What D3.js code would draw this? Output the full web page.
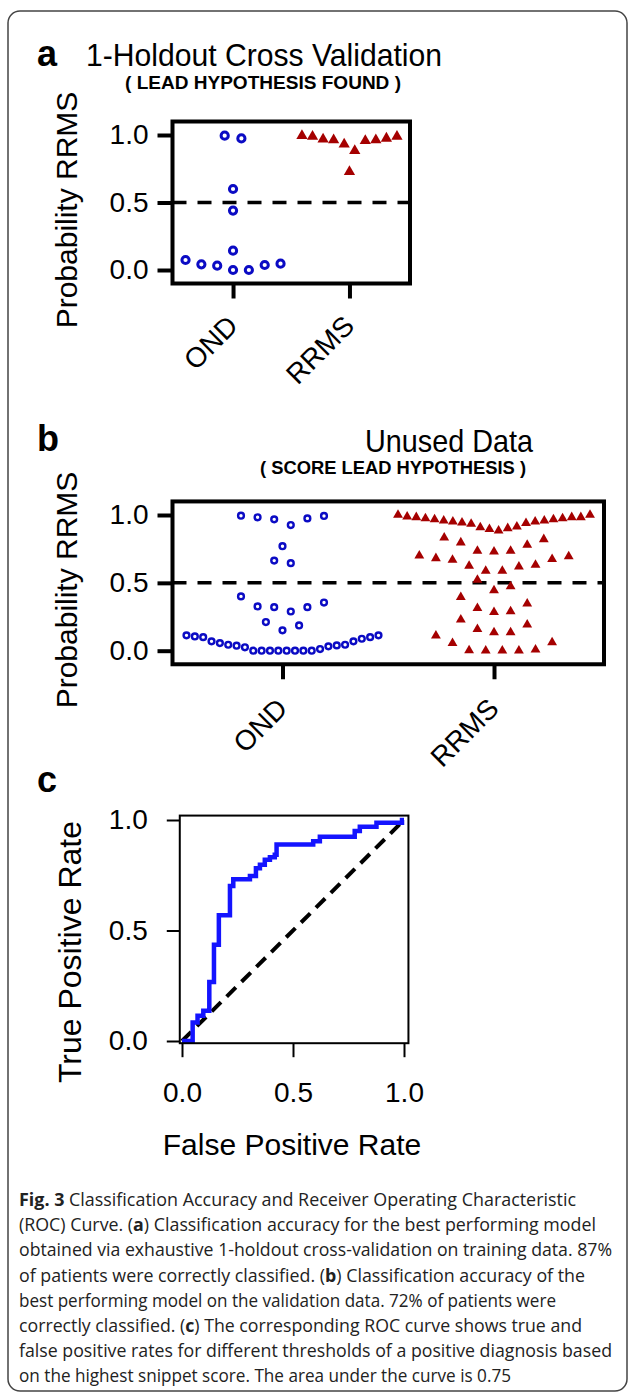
<!DOCTYPE html>
<html>
<head>
<meta charset="utf-8">
<script src="https://cdn.jsdelivr.net/npm/d3@7"></script>
<style>
  body { margin: 0; background: #fff; }
  svg { display: block; font-family: "Liberation Sans", Arial, sans-serif; }
</style>
</head>
<body>
<div id="figure"></div>
<script>
// categories + ticks
const categories = ["OND", "RRMS"]
const probTicks = [0.0, 0.5, 1.0]
const rateTicks = [0.0, 0.5, 1.0]
const cutoff = 0.5

// a) 1-holdout cross validation, probability RRMS per patient
const holdoutOND = [0.975, 0.995, 0.60, 0.44, 0.143, 0.074, 0.042, 0.032, 0.0, 0.0, 0.037, 0.047]
const holdoutRRMS = [0.995, 0.988, 0.968, 0.963, 0.931, 0.884, 0.958, 0.963, 0.975, 0.988, 0.728]

// b) unused data
const unusedOND = [
    0.993, 0.983, 0.968, 0.926, 0.975, 0.995,
    0.77, 0.664, 0.645,
    0.400, 0.355, 0.321, 0.289, 0.321, 0.326,
    0.186, 0.150, 0.211,
    0.113, 0.100, 0.088, 0.069, 0.044, 0.039, 0.025, 0.012, 0.0, 0.0, 0.0, 0.0,
    0.0, 0.0, 0.0, 0.0, 0.032, 0.037, 0.044, 0.056, 0.069, 0.100, 0.105, 0.113
]
const unusedRRMS = [
    0.983, 0.983, 0.975, 0.968, 0.958, 0.951, 0.939, 0.914, 0.895, 0.885, 0.902,
    0.909, 0.934, 0.944, 0.951, 0.958, 0.968, 0.975, 0.983, 0.988, 1.0, 1.0,
    0.821, 0.779, 0.797, 0.833, 0.735, 0.730, 0.735,
    0.694, 0.674, 0.632, 0.620, 0.588, 0.588, 0.625, 0.669, 0.681, 0.70,
    0.522, 0.473, 0.444,
    0.395, 0.314, 0.284, 0.289, 0.346,
    0.191, 0.135, 0.135, 0.159, 0.228,
    0.061, 0.002, 0.0, 0.0, 0.0, 0.007, 0.056, 0.110
]

// c) ROC curve, corner points after each rise
const rocFPR = [0, 0.048, 0.070, 0.096, 0.123, 0.144, 0.166, 0.216, 0.231, 0.306, 0.333, 0.351, 0.373, 0.396, 0.418, 0.426, 0.591, 0.621, 0.778, 0.801, 0.876, 0.991, 1.0]
const rocTPR = [0, 0.084, 0.114, 0.137, 0.267, 0.436, 0.569, 0.701, 0.732, 0.747, 0.782, 0.797, 0.820, 0.832, 0.843, 0.889, 0.904, 0.924, 0.950, 0.970, 0.988, 1.0, 1.0]

const captionLines = [
    [["Fig. 3", true], [" Classification Accuracy and Receiver Operating Characteristic", false]],
    [["(ROC) Curve. (", false], ["a", true], [") Classification accuracy for the best performing model", false]],
    [["obtained via exhaustive 1-holdout cross-validation on training data. 87%", false]],
    [["of patients were correctly classified. (", false], ["b", true], [") Classification accuracy of the", false]],
    [["best performing model on the validation data. 72% of patients were", false]],
    [["correctly classified. (", false], ["c", true], [") The corresponding ROC curve shows true and", false]],
    [["false positive rates for different thresholds of a positive diagnosis based", false]],
    [["on the highest snippet score. The area under the curve is 0.75", false]]
]
const captionWidths = [557, 577, 593, 566, 537, 563, 593, 492]

const blue = "#0b0bc4"
const red = "#a50000"

const width = 629
const height = 1393

const svg = d3.select("#figure")
    .append("svg")
    .attr("width", width)
    .attr("height", height)

svg.append("rect")
    .attr("x", 8)
    .attr("y", 11)
    .attr("width", 619)
    .attr("height", 1380)
    .attr("rx", 12)
    .attr("fill", "none")
    .attr("stroke", "#444")
    .attr("stroke-width", 1.5)

// prism-like scatter: rows of similar values, spread sideways from the centre
function swarm(values, rowHeight, step, maxWidth) {
    const sorted = values.slice().sort((a, b) => a - b)
    const rows = []
    let row = null
    sorted.forEach(v => {
        if (!row || v - row[0] > rowHeight) {
            row = [v]
            rows.push(row)
        } else {
            row.push(v)
        }
    })
    const out = []
    rows.forEach(r => {
        const n = r.length
        const gap = n > 1 ? Math.min(step, maxWidth / (n - 1)) : 0
        const mid = (n - 1) / 2
        const slots = d3.range(n).sort((a, b) => Math.abs(a - mid) - Math.abs(b - mid) || b - a)
        r.forEach((v, i) => out.push({ value: v, dx: (slots[i] - mid) * gap }))
    })
    return out
}

function scatterPanel(cfg) {
    const x = d3.scalePoint()
        .domain(categories)
        .range([cfg.left, cfg.right])
        .padding(0.52)

    const y = d3.scaleLinear()
        .domain([0, 1])
        .range([cfg.zeroY, cfg.oneY])

    const g = svg.append("g")

    g.append("line")
        .attr("x1", cfg.left)
        .attr("x2", cfg.right)
        .attr("y1", y(cutoff))
        .attr("y2", y(cutoff))
        .attr("stroke", "#000")
        .attr("stroke-width", 3.5)
        .attr("stroke-dasharray", "14,11")

    const ond = swarm(cfg.ond, 0.12, cfg.step, cfg.maxWidth)
    const rrms = swarm(cfg.rrms, 0.12, cfg.step, cfg.maxWidth)

    g.append("g")
        .selectAll("circle")
        .data(ond)
        .enter()
        .append("circle")
        .attr("cx", function (d) { return x("OND") + d.dx })
        .attr("cy", function (d) { return y(d.value) })
        .attr("r", cfg.radius)
        .attr("fill", "none")
        .attr("stroke", blue)
        .attr("stroke-width", cfg.ring)

    g.append("g")
        .selectAll("path")
        .data(rrms)
        .enter()
        .append("path")
        .attr("d", d3.symbol().type(d3.symbolTriangle).size(cfg.triSize))
        .attr("transform", function (d) {
            return "translate(" + (x("RRMS") + d.dx) + "," + y(d.value) + ")"
        })
        .attr("fill", red)

    // frame
    g.append("rect")
        .attr("x", cfg.left)
        .attr("y", y(1.1))
        .attr("width", cfg.right - cfg.left)
        .attr("height", y(-0.1) - y(1.1))
        .attr("fill", "none")
        .attr("stroke", "#000")
        .attr("stroke-width", 4)

    g.append("g")
        .attr("transform", "translate(" + cfg.left + ",0)")
        .call(d3.axisLeft(y).tickValues(probTicks).tickFormat(d3.format(".1f")).tickSize(15).tickPadding(9))
        .attr("font-size", 28)
        .attr("font-family", null)
        .call(ax => ax.select(".domain").remove())
        .call(ax => ax.selectAll("line").attr("stroke-width", 4))

    g.append("g")
        .attr("transform", "translate(0," + y(-0.1) + ")")
        .call(d3.axisBottom(x).tickSize(15))
        .attr("font-size", 28)
        .attr("font-family", null)
        .call(ax => ax.select(".domain").remove())
        .call(ax => ax.selectAll("line").attr("stroke-width", 4))
        .call(ax => ax.selectAll("text")
            .attr("x", null)
            .attr("y", null)
            .attr("dy", null)
            .attr("text-anchor", "end")
            .attr("transform", "translate(6," + cfg.labelDrop + ") rotate(-45)"))

    g.append("text")
        .attr("transform", "translate(77," + cfg.titleY + ") rotate(-90)")
        .attr("text-anchor", "middle")
        .attr("font-size", 30)
        .text("Probability RRMS")
}

// panel a
svg.append("text").attr("x", 37).attr("y", 66).attr("font-size", 36).attr("font-weight", "bold").text("a")
svg.append("text").attr("x", 86).attr("y", 66).attr("font-size", 32)
    .attr("textLength", 356).attr("lengthAdjust", "spacingAndGlyphs")
    .text("1-Holdout Cross Validation")
svg.append("text").attr("x", 125).attr("y", 89).attr("font-size", 19).attr("font-weight", "bold")
    .attr("textLength", 276).attr("lengthAdjust", "spacingAndGlyphs")
    .text("( LEAD HYPOTHESIS FOUND )")

scatterPanel({
    ond: holdoutOND, rrms: holdoutRRMS,
    left: 172.5, right: 410, zeroY: 270, oneY: 135,
    step: 16.7, maxWidth: 95, radius: 3.6, ring: 3, triSize: 55,
    labelDrop: 44, titleY: 210
})

// panel b
svg.append("text").attr("x", 37).attr("y", 451).attr("font-size", 36).attr("font-weight", "bold").text("b")
svg.append("text").attr("x", 449).attr("y", 452).attr("font-size", 32).attr("text-anchor", "middle")
    .attr("textLength", 168).attr("lengthAdjust", "spacingAndGlyphs")
    .text("Unused Data")
svg.append("text").attr("x", 393).attr("y", 474).attr("font-size", 19).attr("font-weight", "bold")
    .attr("text-anchor", "middle")
    .attr("textLength", 266).attr("lengthAdjust", "spacingAndGlyphs")
    .text("( SCORE LEAD HYPOTHESIS )")

scatterPanel({
    ond: unusedOND, rrms: unusedRRMS,
    left: 172.5, right: 604, zeroY: 650.7, oneY: 515,
    step: 16.6, maxWidth: 192, radius: 2.9, ring: 2.4, triSize: 42,
    labelDrop: 46, titleY: 590
})

// panel c, ROC
svg.append("text").attr("x", 37).attr("y", 792).attr("font-size", 36).attr("font-weight", "bold").text("c")

const rocX = d3.scaleLinear().domain([0, 1]).range([182, 404])
const rocY = d3.scaleLinear().domain([0, 1]).range([1041, 820])
const roc = rocFPR.map((f, i) => [f, rocTPR[i]])

const gc = svg.append("g")

gc.append("line")
    .attr("x1", rocX(0))
    .attr("y1", rocY(0))
    .attr("x2", rocX(1))
    .attr("y2", rocY(1))
    .attr("stroke", "#000")
    .attr("stroke-width", 4)
    .attr("stroke-dasharray", "13,8")

gc.append("path")
    .datum(roc)
    .attr("d", d3.line()
        .x(d => rocX(d[0]))
        .y(d => rocY(d[1]))
        .curve(d3.curveStepAfter))
    .attr("fill", "none")
    .attr("stroke", "#1414ff")
    .attr("stroke-width", 4.5)

gc.append("rect")
    .attr("x", rocX(-0.01))
    .attr("y", rocY(1.02))
    .attr("width", rocX(1.02) - rocX(-0.01))
    .attr("height", rocY(-0.01) - rocY(1.02))
    .attr("fill", "none")
    .attr("stroke", "#000")
    .attr("stroke-width", 2)

gc.append("g")
    .attr("transform", "translate(" + rocX(-0.01) + ",0)")
    .call(d3.axisLeft(rocY).tickValues(rateTicks).tickFormat(d3.format(".1f")).tickSize(13).tickPadding(19))
    .attr("font-size", 28)
    .attr("font-family", null)
    .call(ax => ax.select(".domain").remove())
    .call(ax => ax.selectAll("line").attr("stroke-width", 2))

gc.append("g")
    .attr("transform", "translate(0," + rocY(-0.01) + ")")
    .call(d3.axisBottom(rocX).tickValues(rateTicks).tickFormat(d3.format(".1f")).tickSize(14).tickPadding(25))
    .attr("font-size", 28)
    .attr("font-family", null)
    .call(ax => ax.select(".domain").remove())
    .call(ax => ax.selectAll("line").attr("stroke-width", 2))

gc.append("text")
    .attr("x", 292)
    .attr("y", 1155)
    .attr("text-anchor", "middle")
    .attr("font-size", 30)
    .text("False Positive Rate")

gc.append("text")
    .attr("transform", "translate(81,952) rotate(-90)")
    .attr("text-anchor", "middle")
    .attr("font-size", 32)
    .text("True Positive Rate")

// caption
const caption = svg.append("g")
    .attr("font-family", "'Open Sans', 'Noto Sans', sans-serif")
    .attr("font-size", 17.5)
    .attr("fill", "#222")

captionLines.forEach(function (line, i) {
    const t = caption.append("text")
        .attr("x", 19)
        .attr("y", 1206 + i * 25.2)
        .attr("textLength", captionWidths[i])
        .attr("lengthAdjust", "spacingAndGlyphs")
    line.forEach(function (seg) {
        t.append("tspan")
            .attr("font-weight", seg[1] ? "bold" : null)
            .text(seg[0])
    })
})
</script>
</body>
</html>
